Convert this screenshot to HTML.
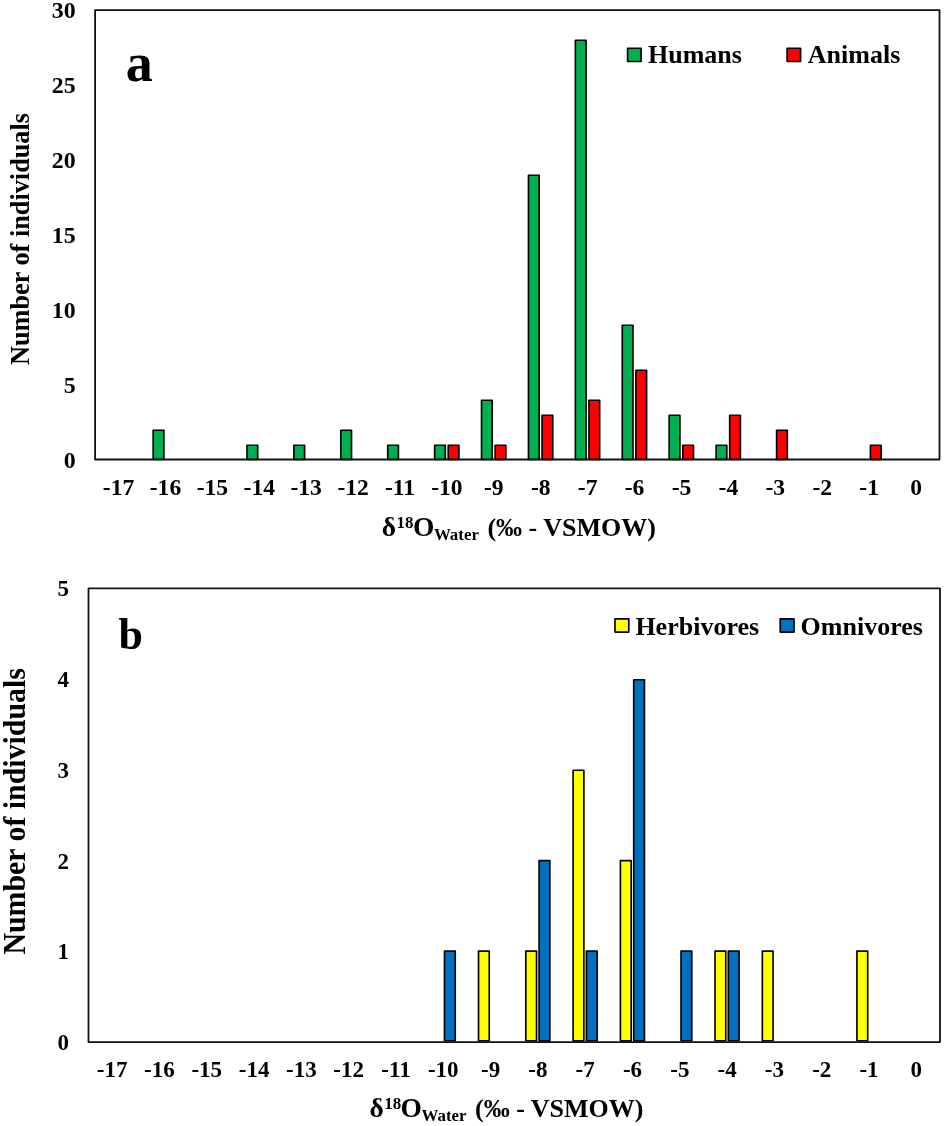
<!DOCTYPE html>
<html lang="en">
<head>
<meta charset="utf-8">
<title>Oxygen isotope histograms</title>
<style>
html,body{margin:0;padding:0;background:#fff;}
body{width:944px;height:1126px;overflow:hidden;}
svg{display:block;}
text{font-family:"Liberation Serif","Times New Roman",Times,serif;font-weight:bold;fill:#000;}
.tk{font-size:23.6px;}
.tkb{font-size:23px;}
.lg{font-size:26px;}
.ttl{font-size:26px;}
.frame{fill:none;stroke:#111;stroke-width:1.8;stroke-linejoin:round;}
.bar{stroke:#000;stroke-width:1.65;stroke-linejoin:round;}
.g{fill:#00b050;}
.r{fill:#ff0000;}
.y{fill:#ffff00;}
.b{fill:#0070c0;}
</style>
</head>
<body>
<svg width="944" height="1126" viewBox="0 0 944 1126">
<rect x="0" y="0" width="944" height="1126" fill="#ffffff"/>
<g id="panel-a">
<rect class="bar g" x="153.17" y="430.25" width="10.70" height="29.25"/>
<rect class="bar g" x="246.99" y="445.25" width="10.70" height="14.25"/>
<rect class="bar g" x="293.90" y="445.25" width="10.70" height="14.25"/>
<rect class="bar g" x="340.81" y="430.25" width="10.70" height="29.25"/>
<rect class="bar g" x="387.72" y="445.25" width="10.70" height="14.25"/>
<rect class="bar g" x="434.63" y="445.25" width="10.70" height="14.25"/>
<rect class="bar r" x="448.23" y="445.25" width="10.70" height="14.25"/>
<rect class="bar g" x="481.54" y="400.25" width="10.70" height="59.25"/>
<rect class="bar r" x="495.14" y="445.25" width="10.70" height="14.25"/>
<rect class="bar g" x="528.46" y="175.25" width="10.70" height="284.25"/>
<rect class="bar r" x="542.06" y="415.25" width="10.70" height="44.25"/>
<rect class="bar g" x="575.37" y="40.25" width="10.70" height="419.25"/>
<rect class="bar r" x="588.97" y="400.25" width="10.70" height="59.25"/>
<rect class="bar g" x="622.28" y="325.25" width="10.70" height="134.25"/>
<rect class="bar r" x="635.88" y="370.25" width="10.70" height="89.25"/>
<rect class="bar g" x="669.19" y="415.25" width="10.70" height="44.25"/>
<rect class="bar r" x="682.79" y="445.25" width="10.70" height="14.25"/>
<rect class="bar g" x="716.10" y="445.25" width="10.70" height="14.25"/>
<rect class="bar r" x="729.70" y="415.25" width="10.70" height="44.25"/>
<rect class="bar r" x="776.61" y="430.25" width="10.70" height="29.25"/>
<rect class="bar r" x="870.43" y="445.25" width="10.70" height="14.25"/>
<rect class="frame" x="95.10" y="10.10" width="844.40" height="449.40"/>
<text class="tk" style="font-size:23.9px" x="75.7" y="468.10" text-anchor="end">0</text>
<text class="tk" style="font-size:23.9px" x="75.7" y="393.10" text-anchor="end">5</text>
<text class="tk" style="font-size:23.9px" x="75.7" y="318.10" text-anchor="end">10</text>
<text class="tk" style="font-size:23.9px" x="75.7" y="243.10" text-anchor="end">15</text>
<text class="tk" style="font-size:23.9px" x="75.7" y="168.10" text-anchor="end">20</text>
<text class="tk" style="font-size:23.9px" x="75.7" y="93.10" text-anchor="end">25</text>
<text class="tk" style="font-size:23.9px" x="75.7" y="18.10" text-anchor="end">30</text>
<text class="tk" x="118.56" y="495.30" text-anchor="middle">-17</text>
<text class="tk" x="165.47" y="495.30" text-anchor="middle">-16</text>
<text class="tk" x="212.38" y="495.30" text-anchor="middle">-15</text>
<text class="tk" x="259.29" y="495.30" text-anchor="middle">-14</text>
<text class="tk" x="306.20" y="495.30" text-anchor="middle">-13</text>
<text class="tk" x="353.11" y="495.30" text-anchor="middle">-12</text>
<text class="tk" x="400.02" y="495.30" text-anchor="middle">-11</text>
<text class="tk" x="446.93" y="495.30" text-anchor="middle">-10</text>
<text class="tk" x="493.84" y="495.30" text-anchor="middle">-9</text>
<text class="tk" x="540.76" y="495.30" text-anchor="middle">-8</text>
<text class="tk" x="587.67" y="495.30" text-anchor="middle">-7</text>
<text class="tk" x="634.58" y="495.30" text-anchor="middle">-6</text>
<text class="tk" x="681.49" y="495.30" text-anchor="middle">-5</text>
<text class="tk" x="728.40" y="495.30" text-anchor="middle">-4</text>
<text class="tk" x="775.31" y="495.30" text-anchor="middle">-3</text>
<text class="tk" x="822.22" y="495.30" text-anchor="middle">-2</text>
<text class="tk" x="869.13" y="495.30" text-anchor="middle">-1</text>
<text class="tk" x="916.04" y="495.30" text-anchor="middle">0</text>
<text class="ttl" style="font-size:27.5px" transform="translate(29.2,365) rotate(-90)" textLength="252" lengthAdjust="spacingAndGlyphs">Number of individuals</text>
<text x="125.8" y="81.2" style="font-size:54px">a</text>
<rect class="bar g" x="627.6" y="48.2" width="13.5" height="13.3"/>
<text class="lg" x="648" y="63.4">Humans</text>
<rect class="bar r" x="787.1" y="48.2" width="13.5" height="13.3"/>
<text class="lg" x="807.8" y="63.4">Animals</text>
<text class="ttl" y="535.80"><tspan x="381.80" style="font-size:27.5px">δ</tspan><tspan x="396.60" dy="-7.8" style="font-size:17px">18</tspan><tspan x="413.00" dy="7.8" style="font-size:27.5px">O</tspan><tspan x="433.90" dy="4.2" style="font-size:16.9px">Water</tspan><tspan x="480.90" dy="-4.2"> (‰ - VSMOW)</tspan></text>
</g>
<g id="panel-b">
<rect class="bar b" x="444.49" y="951.10" width="10.75" height="89.70"/>
<rect class="bar y" x="478.50" y="951.10" width="10.75" height="89.70"/>
<rect class="bar y" x="525.80" y="951.10" width="10.75" height="89.70"/>
<rect class="bar b" x="539.10" y="860.65" width="10.75" height="180.15"/>
<rect class="bar y" x="573.11" y="770.20" width="10.75" height="270.60"/>
<rect class="bar b" x="586.41" y="951.10" width="10.75" height="89.70"/>
<rect class="bar y" x="620.41" y="860.65" width="10.75" height="180.15"/>
<rect class="bar b" x="633.71" y="679.75" width="10.75" height="361.05"/>
<rect class="bar b" x="681.02" y="951.10" width="10.75" height="89.70"/>
<rect class="bar y" x="715.02" y="951.10" width="10.75" height="89.70"/>
<rect class="bar b" x="728.33" y="951.10" width="10.75" height="89.70"/>
<rect class="bar y" x="762.33" y="951.10" width="10.75" height="89.70"/>
<rect class="bar y" x="856.94" y="951.10" width="10.75" height="89.70"/>
<rect class="frame" x="88.50" y="588.30" width="851.50" height="453.80"/>
<text class="tkb" x="69" y="1050.30" text-anchor="end">0</text>
<text class="tkb" x="69" y="959.48" text-anchor="end">1</text>
<text class="tkb" x="69" y="868.66" text-anchor="end">2</text>
<text class="tkb" x="69" y="777.84" text-anchor="end">3</text>
<text class="tkb" x="69" y="687.02" text-anchor="end">4</text>
<text class="tkb" x="69" y="596.20" text-anchor="end">5</text>
<text class="tkb" x="112.15" y="1077.30" text-anchor="middle">-17</text>
<text class="tkb" x="159.46" y="1077.30" text-anchor="middle">-16</text>
<text class="tkb" x="206.76" y="1077.30" text-anchor="middle">-15</text>
<text class="tkb" x="254.07" y="1077.30" text-anchor="middle">-14</text>
<text class="tkb" x="301.38" y="1077.30" text-anchor="middle">-13</text>
<text class="tkb" x="348.68" y="1077.30" text-anchor="middle">-12</text>
<text class="tkb" x="395.99" y="1077.30" text-anchor="middle">-11</text>
<text class="tkb" x="443.29" y="1077.30" text-anchor="middle">-10</text>
<text class="tkb" x="490.60" y="1077.30" text-anchor="middle">-9</text>
<text class="tkb" x="537.90" y="1077.30" text-anchor="middle">-8</text>
<text class="tkb" x="585.21" y="1077.30" text-anchor="middle">-7</text>
<text class="tkb" x="632.51" y="1077.30" text-anchor="middle">-6</text>
<text class="tkb" x="679.82" y="1077.30" text-anchor="middle">-5</text>
<text class="tkb" x="727.12" y="1077.30" text-anchor="middle">-4</text>
<text class="tkb" x="774.43" y="1077.30" text-anchor="middle">-3</text>
<text class="tkb" x="821.74" y="1077.30" text-anchor="middle">-2</text>
<text class="tkb" x="869.04" y="1077.30" text-anchor="middle">-1</text>
<text class="tkb" x="916.35" y="1077.30" text-anchor="middle">0</text>
<text class="ttl" style="font-size:30.5px" transform="translate(24.9,954.6) rotate(-90)" textLength="286.5" lengthAdjust="spacingAndGlyphs">Number of individuals</text>
<text x="118.5" y="649" style="font-size:44px">b</text>
<rect class="bar y" x="615" y="618.8" width="13.8" height="13.3"/>
<text class="lg" x="635.4" y="634.7">Herbivores</text>
<rect class="bar b" x="780.2" y="618.8" width="13.8" height="13.3"/>
<text class="lg" x="800.6" y="634.7">Omnivores</text>
<text class="ttl" y="1116.80"><tspan x="369.40" style="font-size:27.5px">δ</tspan><tspan x="384.20" dy="-7.8" style="font-size:17px">18</tspan><tspan x="400.60" dy="7.8" style="font-size:27.5px">O</tspan><tspan x="421.50" dy="4.2" style="font-size:16.9px">Water</tspan><tspan x="468.50" dy="-4.2"> (‰ - VSMOW)</tspan></text>
</g>
</svg>
</body>
</html>
